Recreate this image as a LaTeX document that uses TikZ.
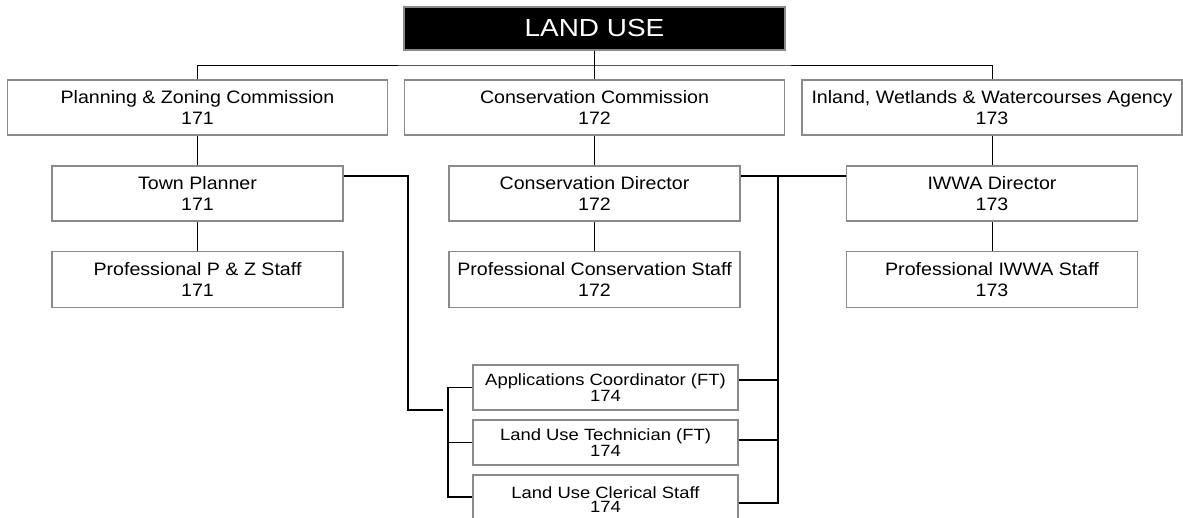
\documentclass[tikz,border=0pt]{standalone}
\usepackage{fontspec}
\setmainfont{Liberation Sans}
\newfontfamily\titlefont[FakeStretch=1.13]{Liberation Sans}
\newfontfamily\unitfont[FakeStretch=1.09]{Liberation Sans}
\newfontfamily\stafffont[FakeStretch=1.13]{Liberation Sans}
\definecolor{boxgray}{HTML}{8A8A8A}
\begin{document}
\begin{tikzpicture}[x=1pt,y=-1pt,
  box/.style={draw=boxgray, line width=1.3pt, fill=white, inner sep=0pt, align=center},
  headbox/.style={box, fill=black, text=white, minimum width=381pt, minimum height=43pt,
    font=\titlefont\fontsize{24.7}{28}\selectfont},
  unitbox/.style={box, minimum width=380pt, minimum height=55pt,
    font=\unitfont\fontsize{18}{21}\selectfont},
  rolebox/.style={box, minimum width=291pt, minimum height=55pt,
    font=\unitfont\fontsize{18}{21}\selectfont},
  staffbox/.style={box, minimum width=265pt, minimum height=45pt,
    font=\stafffont\fontsize{16.3}{14}\selectfont},
  link/.style={draw=black, line width=0.9pt},
  crosslink/.style={draw=black, line width=1.8pt}
]
\useasboundingbox (0,0) rectangle (1183,518);

% department head
\node[headbox] (top) at (594.5,28.5) {LAND USE};

% commissions
\node[unitbox] (pz) at (197.5,107.5) {Planning \& Zoning Commission\\171};
\node[unitbox] (cc) at (594.5,107.5) {Conservation Commission\\172};
\node[unitbox] (iw) at (992,107.5) {Inland, Wetlands \& Watercourses Agency\\173};

% directors
\node[rolebox] (tp) at (197.5,193.5) {Town Planner\\171};
\node[rolebox] (cd) at (594.5,193.5) {Conservation Director\\172};
\node[rolebox] (id) at (992,193.5) {IWWA Director\\173};

% professional staff
\node[rolebox, minimum height=56pt] (pzs) at (197.5,279.5) {Professional P \& Z Staff\\171};
\node[rolebox, minimum height=56pt] (pcs) at (594.5,279.5) {Professional Conservation Staff\\172};
\node[rolebox, minimum height=56pt] (pis) at (992,279.5) {Professional IWWA Staff\\173};

% shared support staff
\node[staffbox] (ac) at (605.5,387.5) {Applications Coordinator (FT)\\174};
\node[staffbox] (lt) at (605.5,442.5) {Land Use Technician (FT)\\174};
\node[staffbox, minimum height=50pt] (lc) at (605.5,500) {Land Use Clerical Staff\\174};

% tree of the department
\coordinate (bus) at (594.5,65);
\draw[link] (top.south) -- (cc.north);
\draw[link] (pz.north) |- (bus) -| (iw.north);
\draw[link] (pz.south) -- (tp.north);
\draw[link] (cc.south) -- (cd.north);
\draw[link] (iw.south) -- (id.north);
\draw[link] (tp.south) -- (pzs.north);
\draw[link] (cd.south) -- (pcs.north);
\draw[link] (id.south) -- (pis.north);

% Town Planner to the support staff
\coordinate (tpdrop) at (408,410);
\coordinate (tpend) at (443,410);
\coordinate (lbar) at (448,0);
\draw[crosslink] ([yshift=17.5pt]tp.east) -| (tpdrop) -- (tpend);
\draw[crosslink] (ac.west) -- (ac.west -| lbar) -- ([yshift=3pt]lc.west -| lbar) -- ([yshift=3pt]lc.west);
\draw[crosslink] (lt.west) -- (lt.west -| lbar);

% Conservation and IWWA directors to the support staff
\coordinate (rbar) at (778,176);
\draw[crosslink] ([yshift=17.5pt]cd.east) -- ([yshift=17.5pt]id.west);
\draw[crosslink] (rbar) -- ([yshift=-3pt]lc.east -| rbar) -- ([yshift=-3pt]lc.east);
\draw[crosslink] ([yshift=7.5pt]ac.east) -- ([yshift=7.5pt]ac.east -| rbar);
\draw[crosslink] ([yshift=2.5pt]lt.east) -- ([yshift=2.5pt]lt.east -| rbar);
\end{tikzpicture}
\end{document}
